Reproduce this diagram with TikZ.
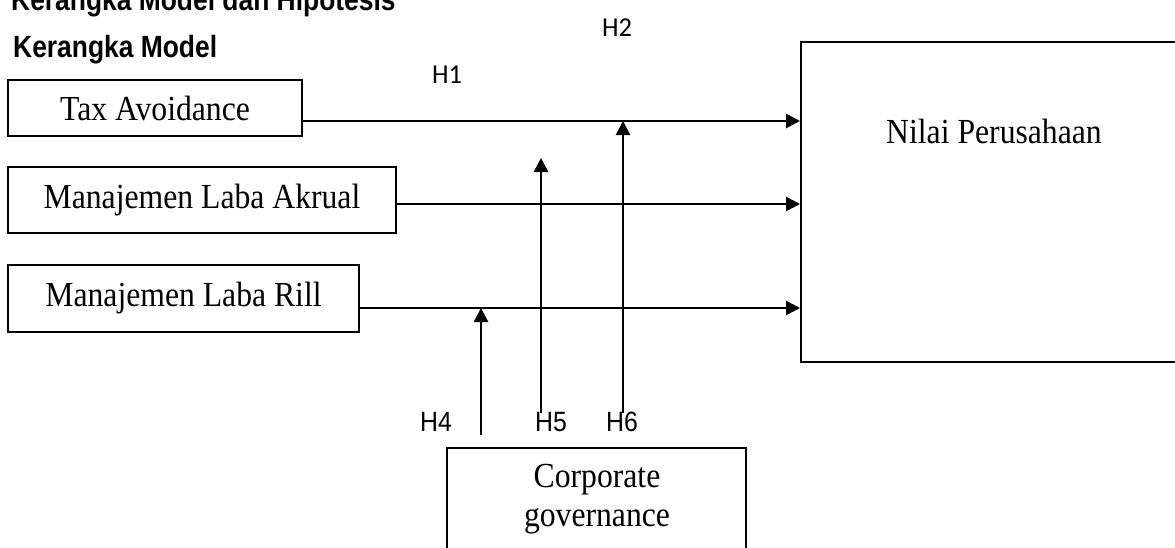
\documentclass[tikz,border=0pt]{standalone}
\usepackage{fontspec}
\setmainfont{Liberation Serif}[FakeStretch=0.9]
\newfontfamily\calib{Carlito}[FakeStretch=0.97]
\newfontfamily\arialf{Liberation Sans}[FakeStretch=0.89]
\newfontfamily\arialh{Liberation Sans}[FakeStretch=0.86]
\usetikzlibrary{arrows.meta}
\begin{document}
\begin{tikzpicture}[x=1pt,y=-1pt,
  box/.style={draw, line width=2pt, inner sep=0pt, font=\fontsize{35.2}{39}\selectfont},
  arr/.style={line width=2.7pt, -{Triangle[length=14pt,width=14pt]}},
  hlab/.style={anchor=base west, inner sep=0pt, font=\calib\fontsize{27.3}{30}\selectfont},
  hlabb/.style={anchor=base west, inner sep=0pt, font=\arialf\fontsize{27.9}{30}\selectfont},
  head/.style={anchor=base west, inner sep=0pt, font=\arialh\bfseries\fontsize{30.7}{34}\selectfont},
  txt/.style={inner sep=0pt, font=\fontsize{35.2}{39}\selectfont}
]
\useasboundingbox (0,0) rectangle (1175,547);

\node[head] (title) at (11,10) {Kerangka Model dan Hipotesis};
\node[head] (sub) at (13,57) {Kerangka Model};

\node[box, minimum width=294pt, minimum height=56pt] (tax) at (155,108) {Tax Avoidance};
\node[box, minimum width=388pt, minimum height=66pt] (akrual) at (202,200) {Manajemen Laba Akrual};
\node[box, minimum width=351pt, minimum height=67pt] (rill) at (183.5,298.5) {Manajemen Laba Rill};
\node[box, minimum width=390pt, minimum height=320pt] (nilai) at (996,202) {};
\node[txt, anchor=base] (nilaitxt) at (994,143) {Nilai Perusahaan};
\node[box, minimum width=299pt, minimum height=120pt] (cg) at (596.5,508) {};
\node[txt, align=center] (cgtxt) at (597,499.5) {Corporate\\governance};

\coordinate (t1) at ([yshift=-13pt]tax.east);
\coordinate (a1) at ([yshift=-4pt]akrual.east);
\coordinate (r1) at ([yshift=-9.5pt]rill.east);
\draw[arr] (t1) -- (t1 -| nilai.west);
\draw[arr] (a1) -- (a1 -| nilai.west);
\draw[arr] (r1) -- (r1 -| nilai.west);

\coordinate (v4) at (481,435);
\coordinate (v5) at (541,413);
\coordinate (v5top) at (541,158);
\coordinate (v6) at (623,413);
\draw[arr] (v4) -- (v4 |- r1);
\draw[arr] (v5) -- (v5top);
\draw[arr] (v6) -- (v6 |- t1);

\node[hlab] (h1) at (432,83) {H1};
\node[hlab] (h2) at (602,36) {H2};
\node[hlabb] (h4) at (420,431) {H4};
\node[hlabb] (h5) at (535,431) {H5};
\node[hlabb] (h6) at (606,431) {H6};
\end{tikzpicture}
\end{document}
